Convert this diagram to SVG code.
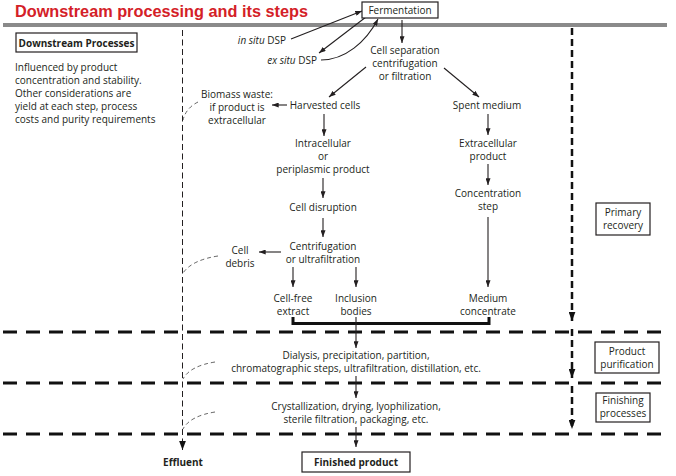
<svg xmlns="http://www.w3.org/2000/svg" width="676" height="476" viewBox="0 0 676 476">
<style>
.t{font-family:"Open Sans","Liberation Sans",sans-serif;font-size:10px;fill:#231f20;text-anchor:middle}
.l{text-anchor:start}
.b{font-weight:bold}
.box{fill:#fff;stroke:#231f20;stroke-width:1.2}
.ln{fill:none;stroke:#231f20;stroke-width:1.1}
.thin{fill:none;stroke:#231f20;stroke-width:1;stroke-dasharray:6 3.5}
.curve{fill:none;stroke:#555;stroke-width:0.9;stroke-dasharray:4 3}
.hd{fill:none;stroke:#111;stroke-width:3;stroke-dasharray:14 9}
.vd{fill:none;stroke:#111;stroke-width:2.5;stroke-dasharray:7 4}
</style>
<defs>
<marker id="ah" viewBox="0 0 8 6" refX="8" refY="3" markerWidth="7" markerHeight="5" orient="auto" markerUnits="userSpaceOnUse"><path d="M0,0 L8,3 L0,6 z" fill="#231f20"/></marker>
<marker id="ahb" viewBox="0 0 8 6" refX="8" refY="3" markerWidth="9" markerHeight="7" orient="auto" markerUnits="userSpaceOnUse"><path d="M0,0 L8,3 L0,6 z" fill="#111"/></marker>
</defs>
<rect width="676" height="476" fill="#fff"/>
<text x="15" y="17" font-family="Liberation Sans,Arial,sans-serif" font-size="17" font-weight="bold" fill="#d42027" textLength="293" lengthAdjust="spacingAndGlyphs">Downstream processing and its steps</text>
<rect x="3" y="23" width="664" height="4" fill="#8a8a8a"/>

<g id="stage-lines">
<path class="hd" d="M3,332 H667"/>
<path class="hd" d="M3,383 H667"/>
<path class="hd" d="M3,434 H667"/>
</g>

<g id="connectors">
<path class="ln" d="M291,39 L362,11" marker-end="url(#ah)"/>
<path class="ln" d="M366,17 L319,53" marker-end="url(#ah)"/>
<path class="ln" d="M321,60 C345,60 366,42 378,19" marker-end="url(#ah)"/>
<path class="ln" d="M402,20 V43" marker-end="url(#ah)"/>
<path class="ln" d="M366,67 L329,97" marker-end="url(#ah)"/>
<path class="ln" d="M444,68 L479,97" marker-end="url(#ah)"/>
<path class="ln" d="M287,105 H272" marker-end="url(#ah)"/>
<path class="ln" d="M324,114 V136" marker-end="url(#ah)"/>
<path class="ln" d="M323,178 V198" marker-end="url(#ah)"/>
<path class="ln" d="M323,218 V237" marker-end="url(#ah)"/>
<path class="ln" d="M281,252 H259" marker-end="url(#ah)"/>
<path class="ln" d="M293,267 V287" marker-end="url(#ah)"/>
<path class="ln" d="M356,267 V287" marker-end="url(#ah)"/>
<path class="ln" d="M488,114 V135" marker-end="url(#ah)"/>
<path class="ln" d="M488,164 V185" marker-end="url(#ah)"/>
<path class="ln" d="M488,217 V287" marker-end="url(#ah)"/>
<path fill="none" stroke="#111" stroke-width="3" d="M293,317 V323.5 H489 V317"/>
<path class="ln" d="M356,317 V348" marker-end="url(#ah)"/>
<path class="ln" d="M356,376 V398" marker-end="url(#ah)"/>
<path class="ln" d="M356,427 V447" marker-end="url(#ah)"/>
<path class="curve" d="M198,102 Q186,108 183,120"/>
<path class="curve" d="M218,256 Q192,260 183,273"/>
<path class="curve" d="M215,362 Q190,366 183,379"/>
<path class="curve" d="M215,412 Q190,416 183,429"/>
<path class="thin" d="M182.5,30 V450" marker-end="url(#ahb)"/>
<path class="vd" d="M572,28 V321" marker-end="url(#ahb)"/>
<path class="vd" d="M572,329 V378" marker-end="url(#ahb)"/>
<path class="vd" d="M572,386 V429" marker-end="url(#ahb)"/>
</g>

<g id="fermentation">
<rect class="box" x="362" y="2" width="76" height="16"/>
<text class="t" x="400" y="14" font-size="10.5">Fermentation</text>
</g>
<g id="in-situ"><text class="t" x="286" y="44" style="text-anchor:end"><tspan font-style="italic">in situ</tspan> DSP</text></g>
<g id="ex-situ"><text class="t" x="317" y="64" style="text-anchor:end"><tspan font-style="italic">ex situ</tspan> DSP</text></g>
<g id="cell-separation">
<text class="t" x="405" y="54">Cell separation</text>
<text class="t" x="405" y="67">centrifugation</text>
<text class="t" x="405" y="80">or filtration</text>
</g>
<g id="downstream-processes">
<rect class="box" x="16" y="33" width="121" height="19"/>
<text class="t b" x="76.5" y="46.5">Downstream Processes</text>
</g>
<g id="note">
<text class="t l" x="15" y="71" font-size="10.8">Influenced by product</text>
<text class="t l" x="15" y="84" font-size="10.8">concentration and stability.</text>
<text class="t l" x="15" y="97" font-size="10.8">Other considerations are</text>
<text class="t l" x="15" y="110" font-size="10.8">yield at each step, process</text>
<text class="t l" x="15" y="123" font-size="10.8">costs and purity requirements</text>
</g>
<g id="harvested-cells"><text class="t" x="325" y="109">Harvested cells</text></g>
<g id="spent-medium"><text class="t" x="487" y="109">Spent medium</text></g>
<g id="biomass-waste">
<text class="t" x="237" y="98">Biomass waste:</text>
<text class="t" x="237" y="111">if product is</text>
<text class="t" x="237" y="124">extracellular</text>
</g>
<g id="intracellular">
<text class="t" x="323" y="147">Intracellular</text>
<text class="t" x="323" y="160">or</text>
<text class="t" x="323" y="173">periplasmic product</text>
</g>
<g id="cell-disruption"><text class="t" x="323" y="211">Cell disruption</text></g>
<g id="centrifugation">
<text class="t" x="323" y="250">Centrifugation</text>
<text class="t" x="323" y="263">or ultrafiltration</text>
</g>
<g id="cell-debris">
<text class="t" x="240" y="254">Cell</text>
<text class="t" x="240" y="267">debris</text>
</g>
<g id="cell-free-extract">
<text class="t" x="293" y="302">Cell-free</text>
<text class="t" x="293" y="315">extract</text>
</g>
<g id="inclusion-bodies">
<text class="t" x="356" y="302">Inclusion</text>
<text class="t" x="356" y="315">bodies</text>
</g>
<g id="extracellular-product">
<text class="t" x="488" y="147">Extracellular</text>
<text class="t" x="488" y="160">product</text>
</g>
<g id="concentration-step">
<text class="t" x="488" y="197">Concentration</text>
<text class="t" x="488" y="210">step</text>
</g>
<g id="medium-concentrate">
<text class="t" x="488" y="302">Medium</text>
<text class="t" x="488" y="315">concentrate</text>
</g>
<g id="purification-steps">
<text class="t" x="356" y="359">Dialysis, precipitation, partition,</text>
<text class="t" x="356" y="372">chromatographic steps, ultrafiltration, distillation, etc.</text>
</g>
<g id="finishing-steps">
<text class="t" x="356" y="410">Crystallization, drying, lyophilization,</text>
<text class="t" x="356" y="423">sterile filtration, packaging, etc.</text>
</g>
<g id="finished-product">
<rect class="box" x="302" y="452" width="108" height="20"/>
<text class="t b" x="356" y="466">Finished product</text>
</g>
<g id="effluent"><text class="t b" x="183" y="466">Effluent</text></g>
<g id="primary-recovery">
<rect class="box" x="596" y="203" width="54" height="32"/>
<text class="t" x="623" y="216">Primary</text>
<text class="t" x="623" y="229">recovery</text>
</g>
<g id="product-purification">
<rect class="box" x="595" y="342" width="64" height="31"/>
<text class="t" x="627" y="355">Product</text>
<text class="t" x="627" y="368">purification</text>
</g>
<g id="finishing-processes">
<rect class="box" x="596" y="393" width="54" height="29"/>
<text class="t" x="623" y="404">Finishing</text>
<text class="t" x="623" y="417">processes</text>
</g>
</svg>
